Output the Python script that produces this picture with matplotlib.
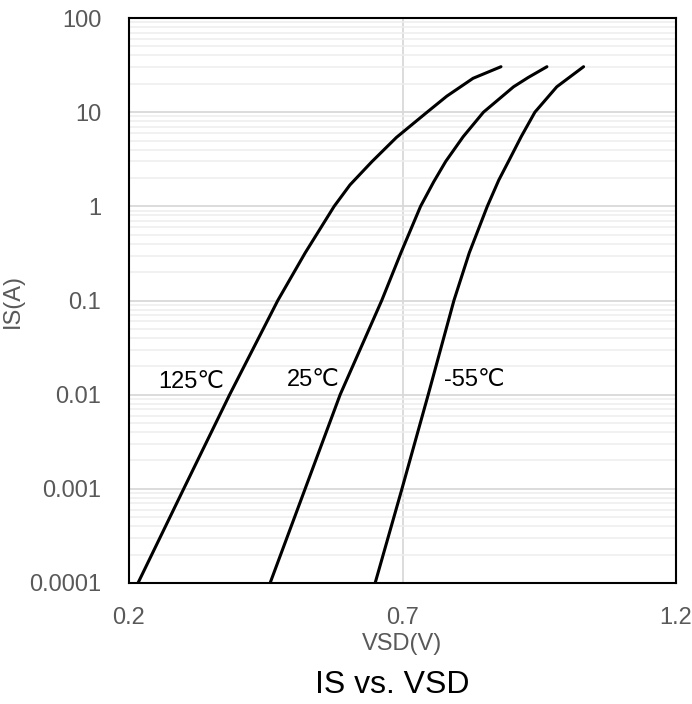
import numpy as np
import matplotlib
matplotlib.use('Agg')
import matplotlib.pyplot as plt
from matplotlib.ticker import LogLocator, FixedLocator, NullFormatter

plt.rcParams['font.family'] = ['Liberation Sans', 'DejaVu Sans']

# 读取的曲线数据 (VSD, IS)
vsd_125 = [0.2165, 0.300, 0.384, 0.472, 0.522, 0.575, 0.604, 0.644, 0.689,
           0.744, 0.781, 0.829, 0.880]
is_125 = [1e-4, 1e-3, 1e-2, 0.1, 0.32, 1.0, 1.69, 2.98, 5.4,
          9.9, 14.8, 22.9, 30.4]

vsd_25 = [0.458, 0.522, 0.586, 0.662, 0.697, 0.733, 0.757, 0.779, 0.811,
          0.848, 0.903, 0.930, 0.964]
is_25 = [1e-4, 1e-3, 1e-2, 0.1, 0.32, 1.0, 1.82, 3.0, 5.5,
         10.0, 18.6, 23.4, 30.4]

vsd_m55 = [0.650, 0.699, 0.747, 0.794, 0.822, 0.855, 0.876, 0.895, 0.917,
           0.942, 0.982, 1.031]
is_m55 = [1e-4, 1e-3, 1e-2, 0.1, 0.32, 1.0, 1.9, 3.1, 5.5,
          10.0, 18.6, 30.4]

labels = ['125℃', '25℃', '-55℃']
label_x = [0.313, 0.536, 0.831]
label_y = [0.0137, 0.0144, 0.0144]

x_ticks = [0.2, 0.7, 1.2]
x_ticklabels = ['0.2', '0.7', '1.2']
y_ticks = [0.0001, 0.001, 0.01, 0.1, 1, 10, 100]
y_ticklabels = ['0.0001', '0.001', '0.01', '0.1', '1', '10', '100']

fig = plt.figure(figsize=(6.92, 7.04), dpi=100)
ax = fig.add_axes([0.1864, 0.1719, 0.7905, 0.8025])

for vx, iy in [(vsd_125, is_125), (vsd_25, is_25), (vsd_m55, is_m55)]:
    ax.plot(vx, iy, color='black', lw=2.2, solid_capstyle='round',
            solid_joinstyle='round')

for t, x, y in zip(labels, label_x, label_y):
    ax.text(x, y, t, fontsize=17, color='black', ha='center', va='center')

ax.set_yscale('log')
ax.set_xlim(0.2, 1.2)
ax.set_ylim(1e-4, 100)

ax.xaxis.set_major_locator(FixedLocator(x_ticks))
ax.set_xticklabels(x_ticklabels)
ax.yaxis.set_major_locator(FixedLocator(y_ticks))
ax.set_yticklabels(y_ticklabels)
ax.yaxis.set_minor_locator(LogLocator(base=10, subs=np.arange(2, 10), numticks=20))
ax.yaxis.set_minor_formatter(NullFormatter())

# 网格线
ax.grid(True, which='major', axis='both', color='#d9d9d9', lw=1.3)
ax.grid(True, which='minor', axis='y', color='#eeeeee', lw=1.1)
ax.set_axisbelow(True)

ax.tick_params(which='both', length=0, labelsize=17, labelcolor='#595959')
ax.tick_params(axis='y', pad=20)
ax.tick_params(axis='x', pad=17)

for s in ax.spines.values():
    s.set_color('black')
    s.set_linewidth(1.5)

ax.set_xlabel('VSD(V)', fontsize=17, color='#595959', labelpad=3)
ax.set_ylabel('IS(A)', fontsize=17, color='#595959', labelpad=4)

fig.text(392 / 692, 1 - 685 / 704, 'IS vs. VSD', fontsize=23, color='black',
         ha='center', va='center')

fig.savefig('out.png', dpi=100)
